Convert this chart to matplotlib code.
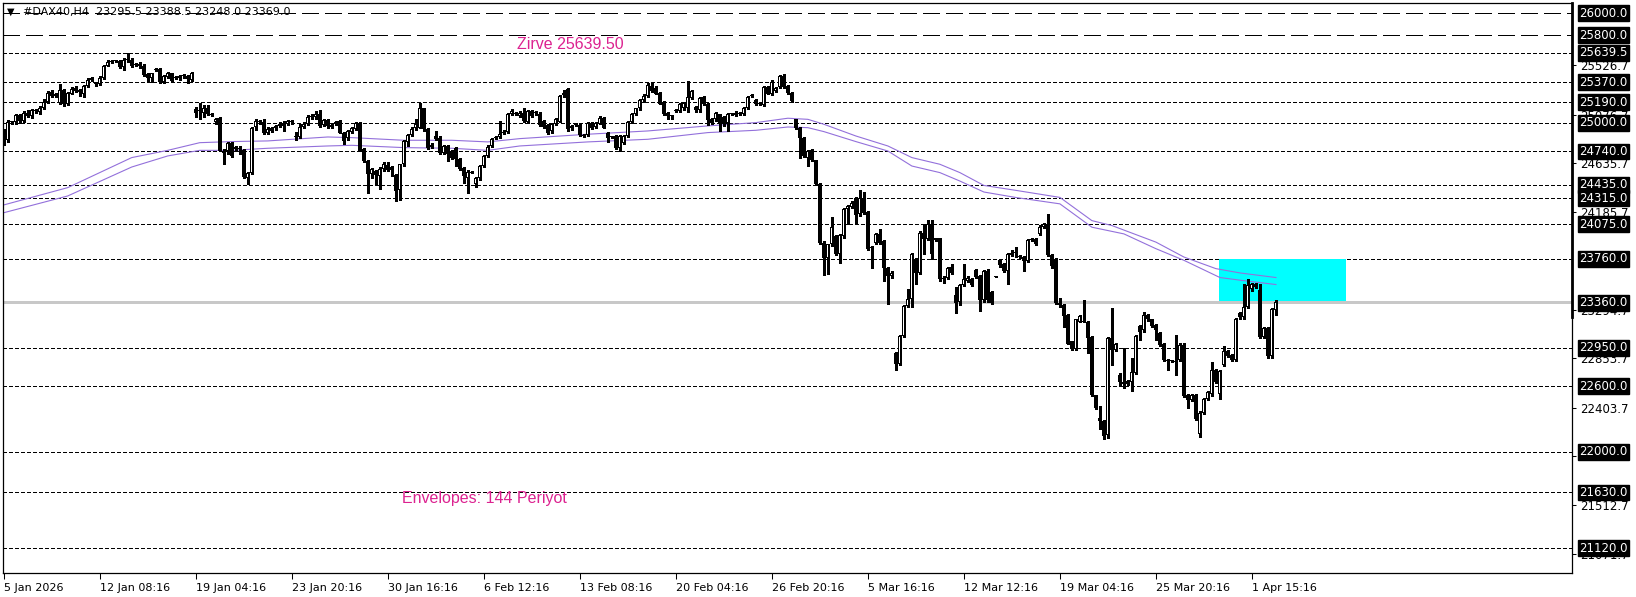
import numpy as np
import matplotlib
matplotlib.use("Agg")
import matplotlib.pyplot as plt
from matplotlib.patches import Rectangle
import matplotlib.transforms as mtransforms

# ---- OHLC data, H4 bars ----
open_ = [
    24930, 24840, 25010, 25005, 25075, 25020, 25095, 25065, 25110, 25100,
    25140, 25195, 25280, 25250, 25185, 25300, 25170, 25268, 25320, 25300,
    25268, 25338, 25390, 25360, 25353, 25408, 25521, 25555, 25566, 25566,
    25512, 25570, 25576, 25530, 25536, 25521, 25450, 25410, 25485, 25490,
    25369, 25420, 25451, 25410, 25408, 25430, 25430, 25390, 25125, 25110,
    25095, 25140, 25085, 25005, 25045, 24745, 24745, 24820, 24760, 24775,
    24750, 24500, 24540, 24965, 25020, 25005, 24912, 24930, 24955, 24972,
    24975, 24994, 25020, 24870, 24875, 24965, 24994, 25050, 25050, 25080,
    24980, 25024, 24979, 24995, 25018, 24912, 24860, 24921, 24942, 25003,
    24760, 24653, 24531, 24562, 24516, 24577, 24617, 24598, 24525, 24385,
    24623, 24830, 24890, 24957, 24957, 25134, 24942, 24780, 24881, 24866,
    24729, 24790, 24744, 24775, 24668, 24592, 24501, 24550, 24440, 24495,
    24607, 24699, 24790, 24860, 24872, 24912, 24921, 25085, 25088, 25064,
    25094, 25012, 25110, 25090, 25085, 25018, 24982, 24927, 24994, 25012,
    25256, 25307, 24973, 24985, 24982, 24881, 24890, 25003, 24963, 24994,
    25043, 24912, 24872, 24881, 24775, 24820, 24881, 25012, 25079, 25134,
    25207, 25247, 25338, 25323, 25277, 25195, 25094, 25060, 25110, 25110,
    25140, 25140, 25231, 25146, 25116, 25237, 25176, 25033, 25033, 25079,
    25055, 25003, 25080, 25073, 25088, 25085, 25134, 25245, 25207, 25180,
    25164, 25329, 25268, 25292, 25329, 25429, 25338, 25277, 25033, 24957,
    24866, 24684, 24750, 24659, 24446, 23908, 23771, 23892, 23968, 23807,
    23968, 24212, 24233, 24312, 24166, 24312, 24190, 23860, 23907, 23983,
    23922, 23680, 23603, 22900, 22797, 23055, 23330, 23390, 23755, 23634,
    23999, 23938, 24075, 23929, 23947, 23573, 23588, 23686, 23430, 23369,
    23520, 23560, 23581, 23662, 23602, 23384, 23650, 23460, 23596, 23747,
    23711, 23650, 23800, 23815, 23785, 23777, 23741, 23935, 23943, 23988,
    24049, 24079, 23800, 23762, 23354, 23339, 23249, 23007, 22937, 23188,
    23188, 23188, 23052, 22515, 22312, 22282, 22152, 23037, 22931, 22705,
    22635, 22623, 22635, 22720, 23149, 23107, 23249, 23209, 23158, 23082,
    22986, 22841, 22826, 22820, 22841, 22977, 22515, 22473, 22515, 22161,
    22358, 22485, 22524, 22750, 22524, 22796, 22916, 22886, 22835, 23264,
    23227, 23324, 23481, 23529, 23475, 23052, 23128, 22871, 23295.5,
]
high = [
    24945, 25025, 25020, 25085, 25085, 25110, 25120, 25125, 25130, 25150,
    25220, 25290, 25300, 25275, 25355, 25310, 25285, 25325, 25335, 25310,
    25345, 25410, 25420, 25372, 25425, 25530, 25575, 25575, 25578, 25575,
    25590, 25639.5, 25590, 25550, 25560, 25535, 25460, 25460, 25500, 25505,
    25440, 25465, 25460, 25430, 25440, 25450, 25440, 25465, 25145, 25185,
    25160, 25165, 25090, 25045, 25050, 24760, 24830, 24830, 24790, 24790,
    24760, 24550, 24965, 25040, 25025, 25040, 24960, 24965, 24985, 25010,
    25020, 25030, 25030, 24915, 24990, 25005, 25070, 25080, 25105, 25120,
    25035, 25040, 25000, 25015, 25030, 24920, 24935, 24965, 25010, 25010,
    24770, 24660, 24590, 24570, 24600, 24640, 24645, 24610, 24535, 24630,
    24845, 24900, 24960, 25040, 25186, 25140, 24950, 24815, 24927, 24880,
    24800, 24800, 24755, 24785, 24680, 24600, 24570, 24560, 24505, 24615,
    24710, 24795, 24860, 24880, 25018, 24935, 25095, 25125, 25100, 25110,
    25135, 25120, 25120, 25105, 25100, 25025, 24990, 25000, 25045, 25255,
    25300, 25320, 24985, 24995, 24990, 24900, 25012, 25010, 25010, 25060,
    25050, 24920, 24880, 24890, 24890, 24890, 25020, 25095, 25140, 25215,
    25260, 25360, 25360, 25335, 25285, 25200, 25100, 25075, 25125, 25185,
    25195, 25383, 25300, 25155, 25240, 25245, 25185, 25045, 25100, 25085,
    25060, 25090, 25095, 25105, 25100, 25145, 25245, 25265, 25215, 25190,
    25335, 25340, 25390, 25330, 25440, 25445, 25345, 25285, 25040, 24965,
    24875, 24750, 24760, 24665, 24455, 23920, 23900, 24142, 23975, 23985,
    24220, 24255, 24285, 24320, 24385, 24370, 24200, 23880, 23995, 24030,
    23935, 23690, 23645, 22910, 23065, 23340, 23482, 23810, 23765, 24010,
    24080, 24112, 24112, 23955, 23955, 23600, 23690, 23716, 23505, 23530,
    23711, 23600, 23590, 23670, 23615, 23660, 23665, 23470, 23600, 23755,
    23720, 23815, 23840, 23868, 23795, 23790, 23945, 23955, 23950, 24065,
    24090, 24170, 23805, 23770, 23400, 23345, 23255, 23015, 23215, 23250,
    23384, 23195, 23060, 22520, 22418, 22290, 23045, 23309, 22995, 22715,
    22946, 22655, 22856, 23065, 23160, 23279, 23260, 23215, 23165, 23090,
    22995, 22850, 22840, 23067, 22990, 22990, 22525, 22525, 22525, 22370,
    22495, 22555, 22817, 22760, 22745, 22967, 22925, 22895, 23220, 23275,
    23535, 23581, 23540, 23540, 23535, 23140, 23140, 23310, 23388.5,
]
low = [
    24800, 24830, 24990, 24990, 25000, 25010, 25050, 25045, 25095, 25080,
    25130, 25180, 25240, 25240, 25170, 25150, 25160, 25260, 25280, 25250,
    25240, 25330, 25385, 25340, 25345, 25400, 25515, 25550, 25558, 25500,
    25485, 25555, 25510, 25520, 25505, 25430, 25380, 25370, 25470, 25365,
    25365, 25410, 25370, 25400, 25395, 25410, 25360, 25380, 25050, 25035,
    25050, 25075, 25060, 24990, 24740, 24625, 24720, 24685, 24740, 24720,
    24500, 24445, 24530, 24940, 24990, 24900, 24900, 24920, 24940, 24960,
    24930, 24985, 24990, 24845, 24860, 24950, 24985, 25040, 25040, 24960,
    24970, 24955, 24955, 24985, 24905, 24805, 24840, 24910, 24935, 24740,
    24640, 24364, 24500, 24440, 24394, 24565, 24560, 24520, 24288, 24300,
    24610, 24790, 24880, 24940, 24950, 24930, 24760, 24770, 24840, 24720,
    24715, 24653, 24670, 24607, 24570, 24455, 24364, 24540, 24420, 24480,
    24600, 24690, 24780, 24850, 24860, 24900, 24910, 25070, 25075, 25050,
    25010, 25000, 25055, 25075, 24970, 24950, 24900, 24910, 24985, 25005,
    25240, 24930, 24940, 24970, 24880, 24870, 24880, 24945, 24955, 24990,
    24950, 24830, 24860, 24760, 24740, 24810, 24870, 25000, 25070, 25120,
    25195, 25240, 25280, 25260, 25170, 25070, 25040, 25040, 25100, 25100,
    25120, 25100, 25220, 25100, 25100, 25160, 24982, 24990, 25020, 24927,
    24975, 24927, 25070, 25065, 25075, 25075, 25125, 25235, 25160, 25165,
    25155, 25260, 25255, 25280, 25320, 25320, 25265, 25195, 24945, 24684,
    24690, 24607, 24650, 24430, 23900, 23612, 23618, 23880, 23800, 23725,
    23955, 24081, 24220, 24075, 24155, 24170, 23840, 23680, 23895, 23895,
    23558, 23345, 23590, 22750, 22790, 23045, 23320, 23320, 23527, 23625,
    23801, 23930, 23755, 23920, 23560, 23540, 23575, 23620, 23265, 23340,
    23510, 23550, 23510, 23590, 23288, 23370, 23370, 23345, 23592, 23690,
    23640, 23535, 23790, 23777, 23765, 23650, 23735, 23925, 23885, 23980,
    24040, 23785, 23680, 23345, 23318, 23137, 22980, 22930, 22930, 23180,
    23180, 22901, 22505, 22395, 22207, 22120, 22130, 22796, 22920, 22599,
    22584, 22610, 22554, 22710, 23022, 23095, 23195, 23140, 23022, 22965,
    22825, 22750, 22815, 22705, 22830, 22500, 22403, 22460, 22295, 22140,
    22345, 22470, 22510, 22625, 22485, 22785, 22865, 22825, 22825, 23215,
    23215, 23310, 23470, 23495, 23040, 23040, 22856, 22860, 23248,
]
close = [
    24840, 25010, 25005, 25075, 25020, 25095, 25065, 25115, 25112, 25140,
    25195, 25277, 25250, 25262, 25300, 25170, 25277, 25314, 25293, 25280,
    25338, 25390, 25408, 25355, 25414, 25521, 25560, 25566, 25568, 25512,
    25576, 25576, 25521, 25542, 25521, 25436, 25414, 25451, 25490, 25369,
    25430, 25454, 25378, 25420, 25430, 25432, 25399, 25454, 25095, 25105,
    25140, 25085, 25070, 25035, 24745, 24730, 24820, 24700, 24780, 24765,
    24507, 24540, 24950, 25020, 25005, 24905, 24942, 24952, 24972, 24994,
    24994, 25020, 25005, 24875, 24965, 24994, 25055, 25055, 25080, 24975,
    25024, 24975, 24960, 25003, 24912, 24836, 24927, 24957, 25003, 24744,
    24653, 24531, 24577, 24525, 24577, 24623, 24568, 24568, 24379, 24623,
    24836, 24890, 24942, 24994, 25134, 24942, 24775, 24800, 24851, 24729,
    24790, 24714, 24684, 24668, 24577, 24516, 24556, 24547, 24495, 24607,
    24699, 24781, 24851, 24872, 24903, 24921, 25085, 25110, 25085, 25094,
    25018, 25110, 25064, 25094, 24982, 24963, 24912, 24994, 25033, 25247,
    25277, 24942, 24957, 24982, 24890, 24893, 25003, 24957, 25003, 25043,
    24957, 24866, 24870, 24769, 24881, 24881, 25012, 25085, 25134, 25207,
    25247, 25347, 25292, 25268, 25176, 25079, 25064, 25064, 25116, 25176,
    25186, 25237, 25292, 25116, 25231, 25170, 25024, 25003, 25094, 24988,
    24988, 25079, 25085, 25094, 25085, 25134, 25237, 25247, 25170, 25176,
    25329, 25268, 25377, 25317, 25429, 25329, 25277, 25201, 24957, 24860,
    24699, 24744, 24659, 24440, 23908, 23765, 23892, 24051, 23807, 23977,
    24212, 24242, 24273, 24160, 24312, 24182, 23847, 23862, 23983, 23907,
    23680, 23603, 23634, 22797, 23055, 23330, 23390, 23801, 23634, 23999,
    23938, 24075, 23807, 23947, 23573, 23588, 23680, 23634, 23360, 23520,
    23581, 23590, 23520, 23596, 23384, 23650, 23384, 23354, 23596, 23701,
    23650, 23807, 23810, 23822, 23777, 23741, 23934, 23943, 23898, 24055,
    24079, 23792, 23692, 23354, 23339, 23240, 22986, 22937, 23209, 23240,
    23185, 23037, 22515, 22403, 22282, 22146, 23037, 22931, 22986, 22635,
    22623, 22645, 22726, 23058, 23097, 23249, 23209, 23149, 23113, 22977,
    22835, 22826, 22828, 22817, 22977, 22509, 22473, 22515, 22303, 22358,
    22485, 22545, 22750, 22635, 22735, 22916, 22877, 22835, 23209, 23227,
    23324, 23520, 23529, 23505, 23052, 23128, 22871, 23300, 23369,
]

# Envelopes (144) - vertices
env_up_bars = [0, 16, 32, 41, 49, 57, 66, 81, 87, 100, 112, 121, 129, 146, 161,
               176, 188, 196, 201, 205, 213, 221, 227, 234, 239, 245, 253, 264,
               272, 277, 288, 295, 303, 309, 318]
env_up = [24252, 24410, 24684, 24750, 24820, 24830, 24836, 24872, 24866, 24842,
          24842, 24827, 24857, 24897, 24927, 24973, 25003, 25043, 25033, 24988,
          24881, 24790, 24684, 24623, 24547, 24430, 24385, 24321, 24109, 24064,
          23913, 23777, 23671, 23632, 23590]
env_lo_bars = [0, 16, 32, 41, 49, 57, 66, 81, 87, 100, 112, 121, 129, 146, 161,
               176, 188, 196, 201, 205, 213, 221, 227, 234, 239, 245, 253, 264,
               272, 280, 288, 295, 304, 309, 318]
env_lo = [24181, 24334, 24598, 24699, 24750, 24750, 24769, 24790, 24796, 24775,
          24769, 24750, 24790, 24827, 24851, 24912, 24933, 24963, 24957, 24921,
          24830, 24744, 24607, 24547, 24470, 24370, 24320, 24262, 24049, 23988,
          23853, 23747, 23590, 23566, 23526]

# horizontal levels
long_levels = [26000.0, 25800.0]
short_levels = [25639.5, 25370.0, 25190.0, 25000.0, 24740.0, 24435.0, 24315.0,
                24075.0, 23760.0, 23360.0, 22950.0, 22600.0, 22000.0, 21630.0,
                21120.0]
scale_ticks = [25526.7, 25076.7, 24635.7, 24185.7, 23294.7, 22853.7, 22403.7,
               21961.7, 21512.7, 21071.7]
bid = 23369.0

date_pos = [0, 24, 48, 72, 96, 120, 144, 168, 192, 216, 240, 264, 288, 312]
date_labels = ["5 Jan 2026", "12 Jan 08:16", "19 Jan 04:16", "23 Jan 20:16",
               "30 Jan 16:16", "6 Feb 12:16", "13 Feb 08:16", "20 Feb 04:16",
               "26 Feb 20:16", "5 Mar 16:16", "12 Mar 12:16", "19 Mar 04:16",
               "25 Mar 20:16", "1 Apr 15:16"]

# zone rectangle (bars, prices)
zone_x0, zone_x1 = 303.8, 335.5
zone_lo, zone_hi = 23373, 23760

plt.rcParams['lines.scale_dashes'] = False
plt.rcParams['font.family'] = ['DejaVu Sans']

W, H = 1636, 597
fig = plt.figure(figsize=(W / 100, H / 100), dpi=100)
ax = fig.add_axes([2.5 / W, 24 / H, (1572 - 2.5) / W, 570 / H])

o = np.array(open_, float)
h = np.array(high, float)
l = np.array(low, float)
c = np.array(close, float)
x = np.arange(len(c))

YMIN, YMAX = 20895, 26094
px = (YMAX - YMIN) / 570.0  # price per pixel

# level lines
for lv in long_levels:
    ax.axhline(lv, color='black', lw=0.75, ls=(0, (12.2, 5.0)), zorder=1,
               antialiased=False)
for lv in short_levels:
    ax.axhline(lv, color='black', lw=0.75, ls=(0, (2.2, 1.5)), zorder=1,
               antialiased=False)
ax.axhline(bid, color='#c8c8c8', lw=0.75, zorder=1.2, antialiased=False)

# zone
ax.add_patch(Rectangle((zone_x0, zone_lo), zone_x1 - zone_x0, zone_hi - zone_lo,
                       facecolor='#00FFFF', edgecolor='none', zorder=1.5))

# envelopes
ax.plot(env_up_bars, env_up, color='#9370DB', lw=0.8, zorder=2)
ax.plot(env_lo_bars, env_lo, color='#9370DB', lw=0.8, zorder=2)

# candles: wicks, black body outline, white interior for bullish bars
up = c >= o
ax.vlines(x, l, h, color='black', lw=0.75, zorder=3, antialiased=False)
body_lo = np.minimum(o, c)
body_h = np.maximum(np.abs(c - o), px)
ax.bar(x, body_h, bottom=body_lo, width=0.75, color='black', linewidth=0,
       zorder=4, antialiased=False)
inner = up & (body_h > 2.5 * px)
ax.bar(x[inner], body_h[inner] - 2 * px, bottom=body_lo[inner] + px,
       width=0.25, color='white', linewidth=0, zorder=5, antialiased=False)

ax.set_xlim(-0.3, 392)
ax.set_ylim(YMIN, YMAX)

for s in ax.spines.values():
    s.set_linewidth(0.9)
    s.set_color('black')

# x axis
ax.set_xticks(date_pos)
ax.set_xticklabels(date_labels, fontsize=8)
for t in ax.get_xticklabels():
    t.set_ha('left')
ax.tick_params(axis='x', direction='out', length=4, width=0.75, pad=3)

# y axis: plain scale labels on the right
ax.yaxis.tick_right()
ax.set_yticks(scale_ticks)
ax.set_yticklabels([f"{v:.1f}" for v in scale_ticks], fontsize=8.5)
ax.tick_params(axis='y', direction='out', length=3, width=0.75, pad=3)

# boxed level labels
trans = mtransforms.blended_transform_factory(ax.transAxes, ax.transData)
for lv in long_levels + short_levels:
    ax.text(1.0045, lv, f"{lv:.1f}", transform=trans, fontsize=8.5,
            color='white', va='center', ha='left', clip_on=False, zorder=10,
            bbox=dict(boxstyle='square,pad=0.12', facecolor='black',
                      edgecolor='black'))

# thick part of right frame
ax.plot([1.0, 1.0], [23227, YMAX], transform=trans, color='black', lw=2,
        clip_on=False, zorder=9)

# texts
pink = '#DC2290'
ax.text(128.3, 25672, "Zirve 25639.50", color=pink, fontsize=11.5,
        family='Liberation Sans', va='baseline', ha='left', zorder=6)
ax.text(99.6, 21530, "Envelopes: 144 Periyot", color=pink, fontsize=11.5,
        family='Liberation Sans', va='baseline', ha='left', zorder=6)

fig.text(7 / W, 1 - 12 / H, "\u25bc", fontsize=7, va='center', ha='left')
fig.text(23 / W, 1 - 12 / H, "#DAX40,H4  23295.5 23388.5 23248.0 23369.0",
         fontsize=8, va='center', ha='left')

fig.savefig("out.png", dpi=100)
